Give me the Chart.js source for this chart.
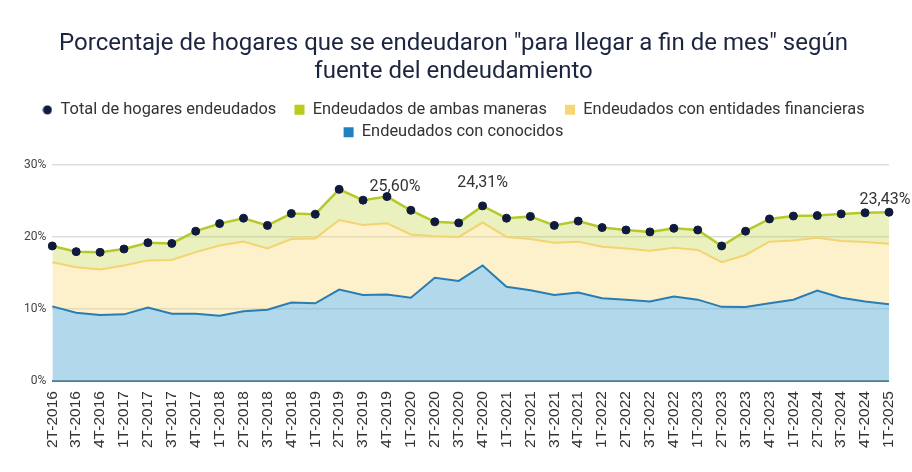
<!DOCTYPE html>
<html>
<head>
<meta charset="utf-8">
<script src="https://cdn.jsdelivr.net/npm/chart.js@4.4.1/dist/chart.umd.min.js"></script>
<style>
  html, body { margin: 0; padding: 0; background: #fff; }
  #wrap { width: 912px; height: 472px; }
</style>
</head>
<body>
<div id="wrap"><canvas id="debtChart"></canvas></div>
<script>
const quarters = [
  '2T-2016','3T-2016','4T-2016',
  '1T-2017','2T-2017','3T-2017','4T-2017',
  '1T-2018','2T-2018','3T-2018','4T-2018',
  '1T-2019','2T-2019','3T-2019','4T-2019',
  '1T-2020','2T-2020','3T-2020','4T-2020',
  '1T-2021','2T-2021','3T-2021','4T-2021',
  '1T-2022','2T-2022','3T-2022','4T-2022',
  '1T-2023','2T-2023','3T-2023','4T-2023',
  '1T-2024','2T-2024','3T-2024','4T-2024',
  '1T-2025'
];

const conocidos = [10.37, 9.5, 9.17, 9.26, 10.2, 9.35, 9.35, 9.07, 9.7, 9.9, 10.9, 10.8,
  12.7, 11.95, 12.03, 11.57, 14.35, 13.9, 16.05, 13.1, 12.6, 11.95, 12.3, 11.5,
  11.3, 11.05, 11.75, 11.3, 10.3, 10.28, 10.8, 11.3, 12.55, 11.57, 11.05, 10.65];

const financieras = [6.13, 6.3, 6.33, 6.79, 6.55, 7.45, 8.55, 9.73, 9.65, 8.5, 8.8, 9.0,
  9.65, 9.7, 9.87, 8.78, 5.75, 6.1, 5.95, 6.9, 7.1, 7.25, 7.05, 7.15,
  7.1, 7.05, 6.75, 6.9, 6.2, 7.22, 8.55, 8.2, 7.35, 7.88, 8.25, 8.42];

const ambas = [2.25, 2.16, 2.37, 2.28, 2.45, 2.3, 2.9, 3.05, 3.25, 3.2, 3.55, 3.35,
  4.25, 3.45, 3.7, 3.35, 2.0, 1.95, 2.31, 2.6, 3.15, 2.4, 2.85, 2.65,
  2.57, 2.6, 2.7, 2.77, 2.25, 3.3, 3.15, 3.4, 3.06, 3.75, 4.05, 4.36];

const totalHogares = [18.75, 17.96, 17.87, 18.33, 19.2, 19.1, 20.8, 21.85, 22.6, 21.6, 23.25, 23.15,
  26.6, 25.1, 25.6, 23.7, 22.1, 21.95, 24.31, 22.6, 22.85, 21.6, 22.2, 21.3,
  20.97, 20.7, 21.2, 20.97, 18.75, 20.8, 22.5, 22.9, 22.96, 23.2, 23.35, 23.43];

// points that get a value label
const labelledPoints = [14, 18, 35];

const yTicks = [0, 10, 20, 30];

// little nudges so the labels sit like in the original
const labelNudge = { 14: [8, -10], 18: [0, -23], 35: [-4, -12] };

Chart.register({
  id: 'valueLabels',
  afterDatasetsDraw(chart) {
    const meta = chart.getDatasetMeta(3);
    const ctx = chart.ctx;
    ctx.save();
    ctx.font = '16px Roboto';
    ctx.fillStyle = '#333';
    ctx.textAlign = 'center';
    ctx.textBaseline = 'middle';
    labelledPoints.forEach(i => {
      const pt = meta.data[i];
      const [dx, dy] = labelNudge[i] || [0, -14];
      const txt = totalHogares[i].toFixed(2).replace('.', ',') + '%';
      ctx.fillText(txt, pt.x + dx, pt.y + dy);
    });
    ctx.restore();
  }
});

// small round marker for the legend
const dotMarker = document.createElement('canvas');
dotMarker.width = 10;
dotMarker.height = 10;
(function () {
  const c = dotMarker.getContext('2d');
  c.fillStyle = '#0f1a3d';
  c.beginPath();
  c.arc(5, 5, 4.5, 0, Math.PI * 2);
  c.fill();
})();

const ctx = document.getElementById('debtChart').getContext('2d');

new Chart(ctx, {
  type: 'line',
  data: {
    labels: quarters,
    datasets: [
      {
        label: 'Endeudados con conocidos',
        data: conocidos,
        stack: 'partes',
        borderColor: '#2a7db3',
        backgroundColor: 'rgba(100, 180, 215, 0.5)',
        fill: 'origin',
        borderWidth: 2,
        pointRadius: 0,
        tension: 0,
        order: 1
      },
      {
        label: 'Endeudados con entidades financieras',
        data: financieras,
        stack: 'partes',
        borderColor: '#f3d470',
        backgroundColor: 'rgba(250, 215, 110, 0.35)',
        fill: '-1',
        borderWidth: 2,
        pointRadius: 0,
        tension: 0,
        order: 1
      },
      {
        label: 'Endeudados de ambas maneras',
        data: ambas,
        stack: 'partes',
        borderColor: '#b5ca2a',
        backgroundColor: 'rgba(185, 205, 40, 0.3)',
        fill: '-1',
        borderWidth: 2.5,
        pointRadius: 0,
        tension: 0,
        order: 1
      },
      {
        label: 'Total de hogares endeudados',
        data: totalHogares,
        stack: 'total',
        showLine: false,
        fill: false,
        borderColor: '#0f1a3d',
        backgroundColor: '#0f1a3d',
        pointRadius: 4,
        pointBorderWidth: 1,
        pointStyle: 'circle',
        order: 0
      }
    ]
  },
  options: {
    responsive: true,
    maintainAspectRatio: false,
    animation: false,
    layout: {
      padding: { left: 18, right: 23, top: 12, bottom: 14 }
    },
    scales: {
      x: {
        offset: false,
        grid: { display: false, drawTicks: false },
        border: { display: false },
        afterFit(scale) {
          // let the layout padding decide the right edge
          scale.paddingRight = 0;
        },
        ticks: {
          color: '#333',
          font: { family: 'Liberation Sans', size: 15.5 },
          autoSkip: false,
          maxRotation: 90,
          minRotation: 90,
          padding: 10
        }
      },
      y: {
        stacked: true,
        min: 0,
        max: 32,
        border: { display: false },
        afterBuildTicks(axis) {
          axis.ticks = yTicks.map(v => ({ value: v }));
        },
        grid: {
          drawTicks: false,
          color: c => c.tick.value === 0 ? '#5f7485' : 'rgba(200, 200, 200, 0.6)',
          lineWidth: c => c.tick.value === 0 ? 2 : 1.5
        },
        ticks: {
          color: '#444',
          font: { family: 'Roboto', size: 12 },
          padding: 6,
          callback: v => v + '%'
        }
      }
    },
    plugins: {
      title: {
        display: true,
        text: ['Porcentaje de hogares que se endeudaron "para llegar a fin de mes" según', 'fuente del endeudamiento'],
        color: '#1c2540',
        font: { family: 'Roboto', size: 24, weight: 'normal', lineHeight: 1.18 },
        padding: { top: 18, bottom: 9 }
      },
      legend: {
        display: true,
        position: 'top',
        labels: {
          usePointStyle: true,
          boxWidth: 10,
          boxHeight: 10,
          padding: 6,
          color: '#333',
          font: { family: 'Roboto', size: 16.4 },
          sort: (a, b) => b.datasetIndex - a.datasetIndex,
          generateLabels(chart) {
            const fills = ['#2080c2', '#f7d775', '#b8cc1c', '#0f1a3d'];
            // trailing spaces widen the gap between items of the first row
            const gaps = ['', '', '   ', '   '];
            return chart.data.datasets.map((ds, i) => ({
              text: ds.label + gaps[i],
              fillStyle: fills[i],
              strokeStyle: fills[i],
              lineWidth: 0,
              pointStyle: i === 3 ? dotMarker : 'rect',
              datasetIndex: i,
              hidden: false,
              fontColor: '#333'
            }));
          }
        }
      },
      tooltip: { enabled: false }
    }
  }
});
</script>
</body>
</html>
